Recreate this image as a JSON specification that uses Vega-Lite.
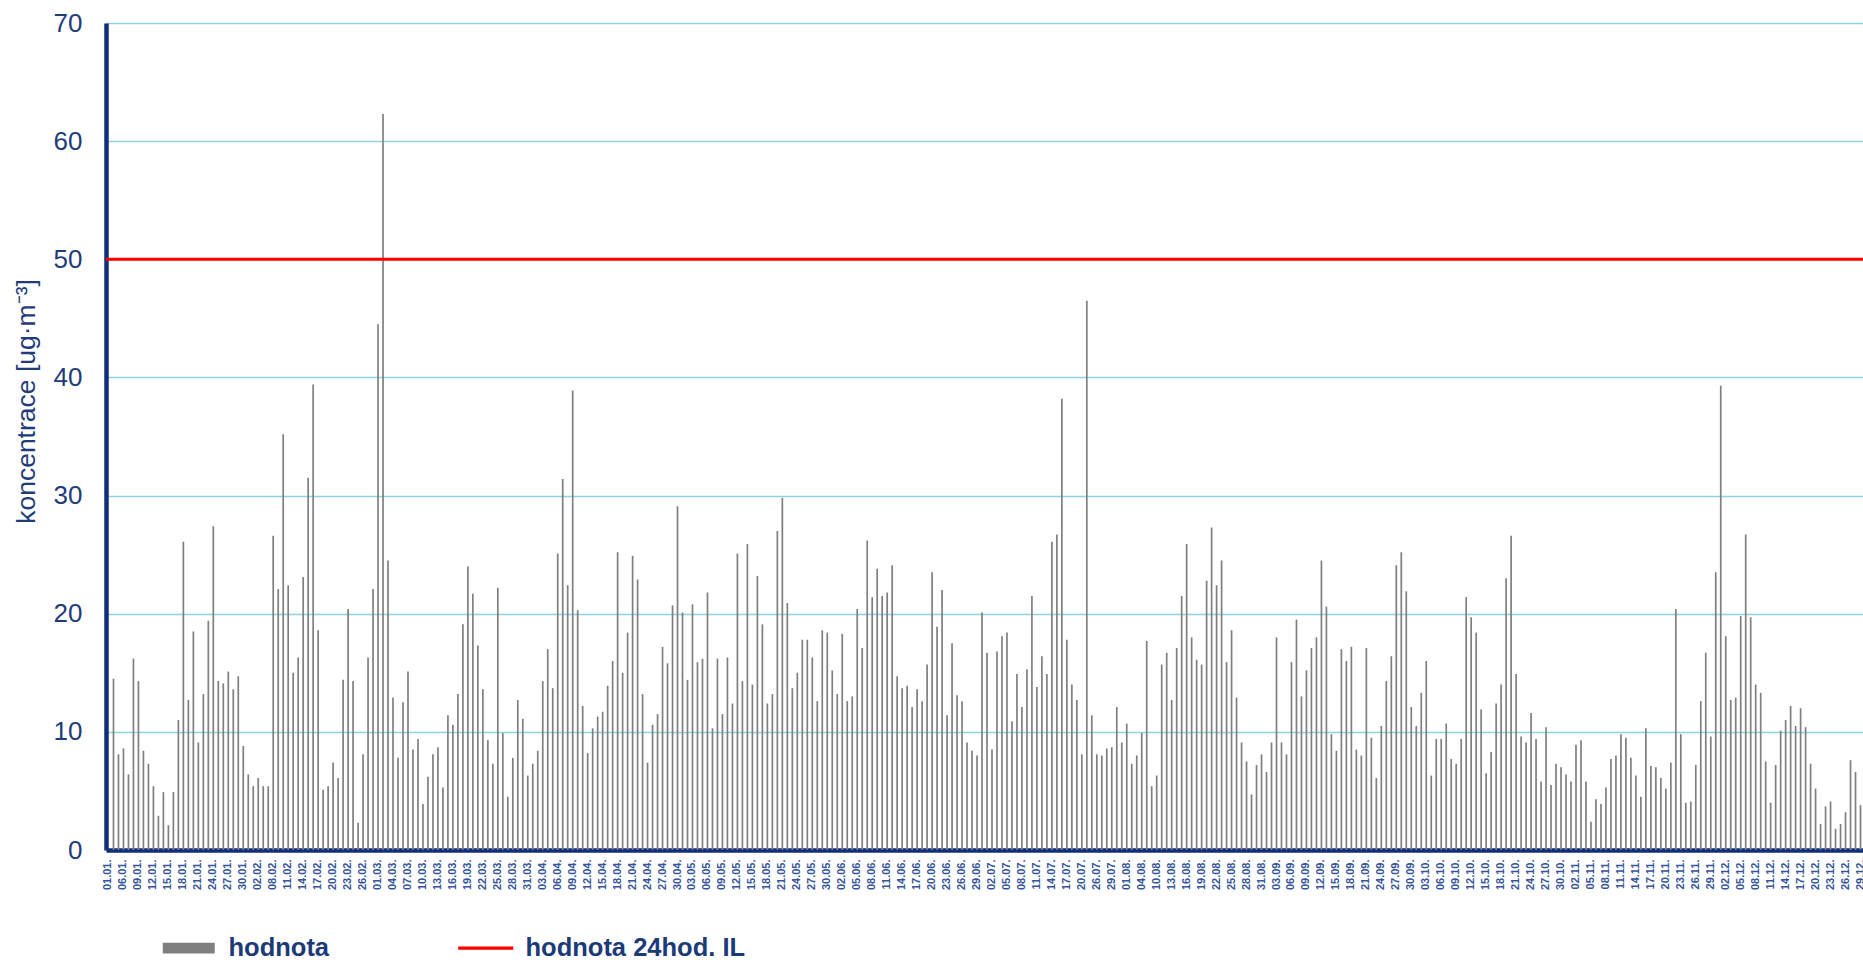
{
"$schema": "https://vega.github.io/schema/vega-lite/v6.json",
"autosize": {"type": "none"},
"padding": {"left": 106, "top": 23, "right": 0, "bottom": 114},
"width": 1757,
"height": 827,
"background": "#ffffff",
"config": {
  "view": {"stroke": null},
  "font": "Liberation Sans"
},
"datasets": {
  "daily": [
{"d":"01.01.","v":null},{"d":"04.01.","v":14.5},{"d":"05.01.","v":8.1},{"d":"06.01.","v":8.6},{"d":"07.01.","v":6.4},{"d":"08.01.","v":16.2},{"d":"09.01.","v":14.3},{"d":"10.01.","v":8.4},{"d":"11.01.","v":7.3},{"d":"12.01.","v":5.4},
{"d":"13.01.","v":2.9},{"d":"14.01.","v":4.9},{"d":"15.01.","v":2.1},{"d":"16.01.","v":4.9},{"d":"17.01.","v":11.0},{"d":"18.01.","v":26.1},{"d":"19.01.","v":12.7},{"d":"20.01.","v":18.5},{"d":"21.01.","v":9.1},{"d":"22.01.","v":13.2},
{"d":"23.01.","v":19.4},{"d":"24.01.","v":27.4},{"d":"25.01.","v":14.3},{"d":"26.01.","v":14.1},{"d":"27.01.","v":15.1},{"d":"28.01.","v":13.6},{"d":"29.01.","v":14.7},{"d":"30.01.","v":8.8},{"d":"31.01.","v":6.4},{"d":"01.02.","v":5.4},
{"d":"02.02.","v":6.1},{"d":"06.02.","v":5.4},{"d":"07.02.","v":5.4},{"d":"08.02.","v":26.6},{"d":"09.02.","v":22.1},{"d":"10.02.","v":35.2},{"d":"11.02.","v":22.4},{"d":"12.02.","v":15.0},{"d":"13.02.","v":16.3},{"d":"14.02.","v":23.1},
{"d":"15.02.","v":31.5},{"d":"16.02.","v":39.4},{"d":"17.02.","v":18.6},{"d":"18.02.","v":5.1},{"d":"19.02.","v":5.4},{"d":"20.02.","v":7.4},{"d":"21.02.","v":6.1},{"d":"22.02.","v":14.4},{"d":"23.02.","v":20.4},{"d":"24.02.","v":14.3},
{"d":"25.02.","v":2.3},{"d":"26.02.","v":8.1},{"d":"27.02.","v":16.3},{"d":"28.02.","v":22.1},{"d":"01.03.","v":44.5},{"d":"02.03.","v":62.3},{"d":"03.03.","v":24.5},{"d":"04.03.","v":12.9},{"d":"05.03.","v":7.8},{"d":"06.03.","v":12.5},
{"d":"07.03.","v":15.1},{"d":"08.03.","v":8.5},{"d":"09.03.","v":9.4},{"d":"10.03.","v":3.9},{"d":"11.03.","v":6.2},{"d":"12.03.","v":8.1},{"d":"13.03.","v":8.7},{"d":"14.03.","v":5.3},{"d":"15.03.","v":11.4},{"d":"16.03.","v":10.6},
{"d":"17.03.","v":13.2},{"d":"18.03.","v":19.1},{"d":"19.03.","v":24.0},{"d":"20.03.","v":21.7},{"d":"21.03.","v":17.3},{"d":"22.03.","v":13.6},{"d":"23.03.","v":9.3},{"d":"24.03.","v":7.3},{"d":"25.03.","v":22.2},{"d":"26.03.","v":9.9},
{"d":"27.03.","v":4.5},{"d":"28.03.","v":7.8},{"d":"29.03.","v":12.7},{"d":"30.03.","v":11.1},{"d":"31.03.","v":6.3},{"d":"01.04.","v":7.3},{"d":"02.04.","v":8.4},{"d":"03.04.","v":14.3},{"d":"04.04.","v":17.0},{"d":"05.04.","v":13.7},
{"d":"06.04.","v":25.1},{"d":"07.04.","v":31.4},{"d":"08.04.","v":22.4},{"d":"09.04.","v":38.9},{"d":"10.04.","v":20.3},{"d":"11.04.","v":12.2},{"d":"12.04.","v":8.2},{"d":"13.04.","v":10.3},{"d":"14.04.","v":11.3},{"d":"15.04.","v":11.7},
{"d":"16.04.","v":13.9},{"d":"17.04.","v":16.0},{"d":"18.04.","v":25.2},{"d":"19.04.","v":15.0},{"d":"20.04.","v":18.4},{"d":"21.04.","v":24.9},{"d":"22.04.","v":22.9},{"d":"23.04.","v":13.2},{"d":"24.04.","v":7.4},{"d":"25.04.","v":10.6},
{"d":"26.04.","v":11.5},{"d":"27.04.","v":17.2},{"d":"28.04.","v":15.8},{"d":"29.04.","v":20.7},{"d":"30.04.","v":29.1},{"d":"01.05.","v":20.1},{"d":"02.05.","v":14.4},{"d":"03.05.","v":20.8},{"d":"04.05.","v":15.9},{"d":"05.05.","v":16.2},
{"d":"06.05.","v":21.8},{"d":"07.05.","v":10.3},{"d":"08.05.","v":16.2},{"d":"09.05.","v":11.5},{"d":"10.05.","v":16.3},{"d":"11.05.","v":12.4},{"d":"12.05.","v":25.1},{"d":"13.05.","v":14.3},{"d":"14.05.","v":25.9},{"d":"15.05.","v":14.0},
{"d":"16.05.","v":23.2},{"d":"17.05.","v":19.1},{"d":"18.05.","v":12.4},{"d":"19.05.","v":13.2},{"d":"20.05.","v":27.0},{"d":"21.05.","v":29.8},{"d":"22.05.","v":20.9},{"d":"23.05.","v":13.7},{"d":"24.05.","v":15.0},{"d":"25.05.","v":17.8},
{"d":"26.05.","v":17.8},{"d":"27.05.","v":16.3},{"d":"28.05.","v":12.6},{"d":"29.05.","v":18.6},{"d":"30.05.","v":18.4},{"d":"31.05.","v":15.2},{"d":"01.06.","v":13.2},{"d":"02.06.","v":18.3},{"d":"03.06.","v":12.6},{"d":"04.06.","v":13.0},
{"d":"05.06.","v":20.4},{"d":"06.06.","v":17.1},{"d":"07.06.","v":26.2},{"d":"08.06.","v":21.4},{"d":"09.06.","v":23.8},{"d":"10.06.","v":21.5},{"d":"11.06.","v":21.8},{"d":"12.06.","v":24.1},{"d":"13.06.","v":14.7},{"d":"14.06.","v":13.7},
{"d":"15.06.","v":13.9},{"d":"16.06.","v":12.1},{"d":"17.06.","v":13.6},{"d":"18.06.","v":12.6},{"d":"19.06.","v":15.7},{"d":"20.06.","v":23.5},{"d":"21.06.","v":18.9},{"d":"22.06.","v":22.0},{"d":"23.06.","v":11.4},{"d":"24.06.","v":17.5},
{"d":"25.06.","v":13.1},{"d":"26.06.","v":12.6},{"d":"27.06.","v":9.1},{"d":"28.06.","v":8.4},{"d":"29.06.","v":8.0},{"d":"30.06.","v":20.1},{"d":"01.07.","v":16.7},{"d":"02.07.","v":8.5},{"d":"03.07.","v":16.8},{"d":"04.07.","v":18.1},
{"d":"05.07.","v":18.4},{"d":"06.07.","v":10.9},{"d":"07.07.","v":14.9},{"d":"08.07.","v":12.1},{"d":"09.07.","v":15.3},{"d":"10.07.","v":21.5},{"d":"11.07.","v":13.8},{"d":"12.07.","v":16.4},{"d":"13.07.","v":14.9},{"d":"14.07.","v":26.1},
{"d":"15.07.","v":26.7},{"d":"16.07.","v":38.2},{"d":"17.07.","v":17.8},{"d":"18.07.","v":14.0},{"d":"19.07.","v":12.7},{"d":"20.07.","v":8.1},{"d":"24.07.","v":46.5},{"d":"25.07.","v":11.4},{"d":"26.07.","v":8.1},{"d":"27.07.","v":8.0},
{"d":"28.07.","v":8.6},{"d":"29.07.","v":8.7},{"d":"30.07.","v":12.1},{"d":"31.07.","v":9.1},{"d":"01.08.","v":10.7},{"d":"02.08.","v":7.3},{"d":"03.08.","v":8.0},{"d":"04.08.","v":9.9},{"d":"08.08.","v":17.7},{"d":"09.08.","v":5.4},
{"d":"10.08.","v":6.3},{"d":"11.08.","v":15.7},{"d":"12.08.","v":16.7},{"d":"13.08.","v":12.7},{"d":"14.08.","v":17.1},{"d":"15.08.","v":21.5},{"d":"16.08.","v":25.9},{"d":"17.08.","v":18.0},{"d":"18.08.","v":16.1},{"d":"19.08.","v":15.7},
{"d":"20.08.","v":22.8},{"d":"21.08.","v":27.3},{"d":"22.08.","v":22.4},{"d":"23.08.","v":24.5},{"d":"24.08.","v":15.9},{"d":"25.08.","v":18.6},{"d":"26.08.","v":12.9},{"d":"27.08.","v":9.1},{"d":"28.08.","v":7.5},{"d":"29.08.","v":4.7},
{"d":"30.08.","v":7.2},{"d":"31.08.","v":8.1},{"d":"01.09.","v":6.6},{"d":"02.09.","v":9.1},{"d":"03.09.","v":18.0},{"d":"04.09.","v":9.1},{"d":"05.09.","v":8.1},{"d":"06.09.","v":15.9},{"d":"07.09.","v":19.5},{"d":"08.09.","v":13.0},
{"d":"09.09.","v":15.2},{"d":"10.09.","v":17.1},{"d":"11.09.","v":18.0},{"d":"12.09.","v":24.5},{"d":"13.09.","v":20.6},{"d":"14.09.","v":9.8},{"d":"15.09.","v":8.4},{"d":"16.09.","v":17.0},{"d":"17.09.","v":16.0},{"d":"18.09.","v":17.2},
{"d":"19.09.","v":8.5},{"d":"20.09.","v":8.0},{"d":"21.09.","v":17.1},{"d":"22.09.","v":9.5},{"d":"23.09.","v":6.1},{"d":"24.09.","v":10.5},{"d":"25.09.","v":14.3},{"d":"26.09.","v":16.4},{"d":"27.09.","v":24.1},{"d":"28.09.","v":25.2},
{"d":"29.09.","v":21.9},{"d":"30.09.","v":12.1},{"d":"01.10.","v":10.5},{"d":"02.10.","v":13.3},{"d":"03.10.","v":16.0},{"d":"04.10.","v":6.3},{"d":"05.10.","v":9.4},{"d":"06.10.","v":9.4},{"d":"07.10.","v":10.7},{"d":"08.10.","v":7.7},
{"d":"09.10.","v":7.3},{"d":"10.10.","v":9.4},{"d":"11.10.","v":21.4},{"d":"12.10.","v":19.7},{"d":"13.10.","v":18.4},{"d":"14.10.","v":11.9},{"d":"15.10.","v":6.5},{"d":"16.10.","v":8.3},{"d":"17.10.","v":12.4},{"d":"18.10.","v":14.0},
{"d":"19.10.","v":23.0},{"d":"20.10.","v":26.6},{"d":"21.10.","v":14.9},{"d":"22.10.","v":9.6},{"d":"23.10.","v":9.1},{"d":"24.10.","v":11.6},{"d":"25.10.","v":9.4},{"d":"26.10.","v":5.8},{"d":"27.10.","v":10.4},{"d":"28.10.","v":5.5},
{"d":"29.10.","v":7.3},{"d":"30.10.","v":7.0},{"d":"31.10.","v":6.4},{"d":"01.11.","v":5.8},{"d":"02.11.","v":8.9},{"d":"03.11.","v":9.3},{"d":"04.11.","v":5.8},{"d":"05.11.","v":2.4},{"d":"06.11.","v":4.3},{"d":"07.11.","v":3.9},
{"d":"08.11.","v":5.3},{"d":"09.11.","v":7.7},{"d":"10.11.","v":8.0},{"d":"11.11.","v":9.8},{"d":"12.11.","v":9.5},{"d":"13.11.","v":7.8},{"d":"14.11.","v":6.3},{"d":"15.11.","v":4.5},{"d":"16.11.","v":10.3},{"d":"17.11.","v":7.1},
{"d":"18.11.","v":7.0},{"d":"19.11.","v":6.1},{"d":"20.11.","v":5.2},{"d":"21.11.","v":7.4},{"d":"22.11.","v":20.4},{"d":"23.11.","v":9.8},{"d":"24.11.","v":4.0},{"d":"25.11.","v":4.1},{"d":"26.11.","v":7.2},{"d":"27.11.","v":12.6},
{"d":"28.11.","v":16.7},{"d":"29.11.","v":9.6},{"d":"30.11.","v":23.5},{"d":"01.12.","v":39.3},{"d":"02.12.","v":18.1},{"d":"03.12.","v":12.7},{"d":"04.12.","v":12.9},{"d":"05.12.","v":19.8},{"d":"06.12.","v":26.7},{"d":"07.12.","v":19.7},
{"d":"08.12.","v":14.0},{"d":"09.12.","v":13.3},{"d":"10.12.","v":7.5},{"d":"11.12.","v":4.0},{"d":"12.12.","v":7.2},{"d":"13.12.","v":10.1},{"d":"14.12.","v":11.0},{"d":"15.12.","v":12.2},{"d":"16.12.","v":10.5},{"d":"17.12.","v":12.0},
{"d":"18.12.","v":10.4},{"d":"19.12.","v":7.3},{"d":"20.12.","v":5.2},{"d":"21.12.","v":2.2},{"d":"22.12.","v":3.7},{"d":"23.12.","v":4.1},{"d":"24.12.","v":1.8},{"d":"25.12.","v":2.2},{"d":"26.12.","v":3.2},{"d":"27.12.","v":7.6},
{"d":"28.12.","v":6.6},{"d":"29.12.","v":3.8}
  ],
  "limit": [{"limit": 50}]
},
"layer": [
  {
    "data": {"name": "daily"},
    "mark": {"type": "bar", "width": {"band": 0.34}, "invalid": null},
    "encoding": {
      "x": {
        "field": "d", "type": "ordinal", "sort": null,
        "scale": {"paddingInner": 0, "paddingOuter": 0},
        "axis": {
          "title": null,
          "values": ["01.01.","06.01.","09.01.","12.01.","15.01.","18.01.","21.01.","24.01.","27.01.","30.01.","02.02.","08.02.","11.02.","14.02.","17.02.","20.02.","23.02.","26.02.","01.03.","04.03.","07.03.","10.03.","13.03.","16.03.","19.03.","22.03.","25.03.","28.03.","31.03.","03.04.","06.04.","09.04.","12.04.","15.04.","18.04.","21.04.","24.04.","27.04.","30.04.","03.05.","06.05.","09.05.","12.05.","15.05.","18.05.","21.05.","24.05.","27.05.","30.05.","02.06.","05.06.","08.06.","11.06.","14.06.","17.06.","20.06.","23.06.","26.06.","29.06.","02.07.","05.07.","08.07.","11.07.","14.07.","17.07.","20.07.","26.07.","29.07.","01.08.","04.08.","10.08.","13.08.","16.08.","19.08.","22.08.","25.08.","28.08.","31.08.","03.09.","06.09.","09.09.","12.09.","15.09.","18.09.","21.09.","24.09.","27.09.","30.09.","03.10.","06.10.","09.10.","12.10.","15.10.","18.10.","21.10.","24.10.","27.10.","30.10.","02.11.","05.11.","08.11.","11.11.","14.11.","17.11.","20.11.","23.11.","26.11.","29.11.","02.12.","05.12.","08.12.","11.12.","14.12.","17.12.","20.12.","23.12.","26.12.","29.12."],
          "labelAngle": 270,
          "labelFontSize": 11,
          "labelFontWeight": "bold",
          "labelColor": "#35549A",
          "labelPadding": 9,
          "labelOverlap": false,
          "labelFlush": false,
          "ticks": false,
          "tickSize": 0,
          "domainColor": "#102E7A",
          "domainWidth": 4.5,
          "grid": false
        }
      },
      "y": {
        "field": "v", "type": "quantitative",
        "scale": {"domain": [0, 70], "nice": false},
        "axis": {
          "title": "koncentrace [ug·m⁻³]",
          "titleFontSize": 26.5,
          "titleFontWeight": "normal",
          "titleColor": "#1F3C7A",
          "titleAngle": 270,
          "titleAlign": "center",
          "titleBaseline": "alphabetic",
          "titleX": -72,
          "titleY": 378,
          "values": [0, 10, 20, 30, 40, 50, 60, 70],
          "labelFontSize": 26,
          "labelColor": "#1F3C7A",
          "labelPadding": 24,
          "ticks": false,
          "tickSize": 0,
          "domainColor": "#102E7A",
          "domainWidth": 4.5,
          "grid": true,
          "gridColor": "#8DD2DE",
          "gridWidth": 1.5
        }
      },
      "color": {
        "datum": "hodnota",
        "type": "nominal",
        "scale": {"domain": ["hodnota", "hodnota 24hod. IL"], "range": ["#7f7f7f", "#ff0000"]},
        "legend": {
          "orient": "none",
          "legendX": 57,
          "legendY": 912,
          "direction": "horizontal",
          "columns": 2,
          "title": null,
          "symbolSize": 2704,
          "symbolOpacity": 1,
          "labelFontSize": 25.5,
          "labelFontWeight": "bold",
          "labelColor": "#1B3A78",
          "labelOffset": 40,
          "labelLimit": 0,
          "columnPadding": 121,
          "encode": {
            "symbols": {"update": {
              "shape": {"signal": "datum.value === 'hodnota' ? 'M-0.5,-0.21H1.5V0.21H-0.5Z' : 'M-0.56,0H1.56'"},
              "fill": {"signal": "datum.value === 'hodnota' ? '#7f7f7f' : 'transparent'"},
              "stroke": {"signal": "datum.value === 'hodnota' ? 'transparent' : '#ff0000'"},
              "strokeWidth": {"signal": "datum.value === 'hodnota' ? 0 : 3.3"},
              "opacity": {"value": 1}
            }}
          }
        }
      }
    }
  },
  {
    "data": {"name": "limit"},
    "mark": {"type": "rule", "strokeWidth": 3},
    "encoding": {
      "y": {"field": "limit", "type": "quantitative"},
      "color": {"datum": "hodnota 24hod. IL", "type": "nominal"}
    }
  }
]
}
